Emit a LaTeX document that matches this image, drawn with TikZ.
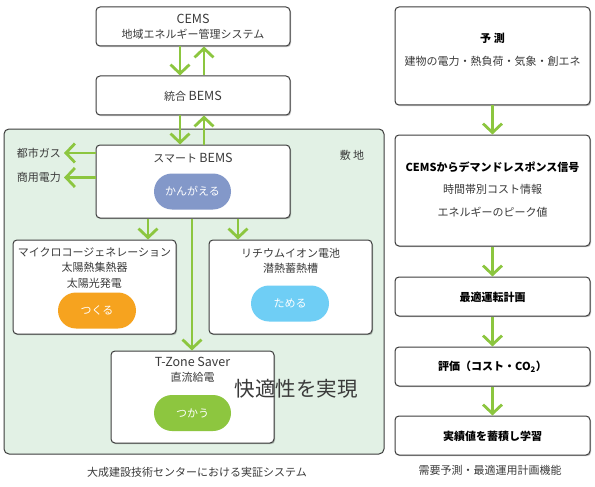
\documentclass[tikz,border=0pt]{standalone}
\usepackage{fontspec}
\setmainfont{Noto Sans CJK JP}
\usetikzlibrary{arrows.meta,shadows}
\definecolor{arrgreen}{HTML}{8CC63F}
\definecolor{boxline}{HTML}{3C3C3C}
\definecolor{sitefill}{HTML}{E2F1E5}
\definecolor{txt}{HTML}{3A3A3A}
\definecolor{pillblue}{HTML}{8398C9}
\definecolor{pillorange}{HTML}{F6A31F}
\definecolor{pillcyan}{HTML}{6FCEF5}
\definecolor{pillgreen}{HTML}{8DC63F}
\newcommand{\latw}[1]{{\fontsize{12.5}{15}\selectfont #1}}
\tikzset{
  box/.style={draw=boxline, fill=white, rounded corners=4pt, line width=1pt, inner sep=0pt,
    drop shadow={shadow xshift=1pt, shadow yshift=-1.2pt, opacity=0.25, fill=black}},
  pill/.style={fill=#1, rounded corners=18pt, inner sep=0pt, minimum width=77pt, minimum height=36pt,
    text=white, font=\fontsize{11}{13}\selectfont},
  lbl/.style={text=txt, font=\fontsize{11}{15}\selectfont, inner sep=0pt, align=center},
  blbl/.style={text=black, font=\fontsize{11}{15}\selectfont\bfseries, inner sep=0pt, align=center},
  arr/.style={draw=arrgreen, line width=2.8pt, -{Straight Barb[length=9pt,width=19pt]}},
}
\begin{document}
\begin{tikzpicture}[x=1pt,y=-1pt]
\useasboundingbox (0,0) rectangle (595,487);
% site area
\node[draw=boxline, fill=sitefill, rounded corners=5pt, line width=1pt, inner sep=0pt,
  minimum width=380pt, minimum height=325pt] (site) at (194,291.5) {};
\node[lbl] (sitelbl) at (352,155) {敷 地};

% left column boxes
\node[box, minimum width=194pt, minimum height=39pt] (cems) at (193,26.5) {};
\node[lbl] (cemst) at (193,26.5) {\latw{CEMS}\\地域エネルギー管理システム};
\node[box, minimum width=194pt, minimum height=39pt] (tougou) at (193,95.5) {};
\node[lbl] (tougout) at (193,96) {統合 \latw{BEMS}};
\node[box, minimum width=194pt, minimum height=73pt] (smart) at (193,181.5) {};
\node[lbl] (smartt) at (193,158) {スマート \latw{BEMS}};
\node[pill=pillblue] (kangaeru) at (192.5,191.5) {かんがえる};

\node[box, minimum width=163pt, minimum height=94pt] (micro) at (94.5,287) {};
\node[lbl, font=\fontsize{11}{15.5}\selectfont] (microt) at (94.5,268) {マイクロコージェネレーション\\太陽熱集熱器\\太陽光発電};
\node[pill=pillorange, minimum width=78pt] (tsukuru) at (97,310.5) {つくる};

\node[box, minimum width=163pt, minimum height=94pt] (lith) at (290.5,287) {};
\node[lbl] (litht) at (290.5,260.5) {リチウムイオン電池\\潜熱蓄熱槽};
\node[pill=pillcyan, minimum width=78pt] (tameru) at (290,303.5) {ためる};

\node[box, minimum width=163pt, minimum height=92pt] (tzone) at (192.5,397) {};
\node[lbl] (tzonet) at (192.5,369.5) {\latw{T-Zone Saver}\\直流給電};
\node[pill=pillgreen] (tsukau) at (192.5,413) {つかう};

\node[text=txt, font=\fontsize{20.5}{24}\selectfont, inner sep=0pt] (kaiteki) at (296,389) {快適性を実現};

\node[lbl, anchor=east, inner sep=3pt] (gas) at (64,153) {都市ガス};
\node[lbl, anchor=east, inner sep=3pt] (denryoku) at (64,177.5) {商用電力};

\node[lbl] (cap1) at (197,472) {大成建設技術センターにおける実証システム};

% right column
\node[box, minimum width=195pt, minimum height=98pt] (yosoku) at (492.5,56) {};
\node[blbl] (yosokut) at (492.5,38) {予 測};
\node[lbl] (yosokus) at (492.5,61) {建物の電力・熱負荷・気象・創エネ};
\node[box, minimum width=195pt, minimum height=111pt] (cemsdr) at (492.5,190.5) {};
\node[blbl] (cemsdrt) at (492.5,167) {CEMSからデマンドレスポンス信号};
\node[lbl, font=\fontsize{11}{22.5}\selectfont] (cemsdrs) at (492.5,201) {時間帯別コスト情報\\エネルギーのピーク値};
\node[box, minimum width=195pt, minimum height=39pt] (saiteki) at (492.5,296.5) {};
\node[blbl] (saitekit) at (492.5,297) {最適運転計画};
\node[box, minimum width=195pt, minimum height=39pt] (hyouka) at (492.5,366.5) {};
\node[blbl] (hyoukat) at (492.5,366.5) {評価（コスト・CO\textsubscript{2}）};
\node[box, minimum width=195pt, minimum height=39pt] (jisseki) at (492.5,435.5) {};
\node[blbl] (jissekit) at (492.5,436) {実績値を蓄積し学習};
\node[lbl] (cap2) at (490,470) {需要予測・最適運用計画機能};

% connectors
\draw[arr] ([xshift=-13pt]cems.south) -- ([xshift=-13pt]tougou.north);
\draw[arr] ([xshift=11pt]tougou.north) -- ([xshift=11pt]cems.south);
\draw[arr] ([xshift=-13pt]tougou.south) -- ([xshift=-13pt]smart.north);
\draw[arr] ([xshift=11pt]smart.north) -- ([xshift=11pt]tougou.south);
\draw[arr] (smart.west |- gas.east) -- (gas.east);
\draw[arr] (smart.west |- denryoku.east) -- (denryoku.east);
\draw[arr] ([xshift=-45pt]smart.south) -- ([xshift=-45pt]smart.south |- micro.north);
\draw[arr] ([xshift=45pt]smart.south) -- ([xshift=45pt]smart.south |- lith.north);
\draw[arr] ([xshift=-1pt]smart.south) -- ([xshift=-0.5pt]tzone.north);

\draw[arr] (yosoku.south) -- (cemsdr.north);
\draw[arr] (cemsdr.south) -- (saiteki.north);
\draw[arr] (saiteki.south) -- (hyouka.north);
\draw[arr] (hyouka.south) -- (jisseki.north);
\end{tikzpicture}
\end{document}
